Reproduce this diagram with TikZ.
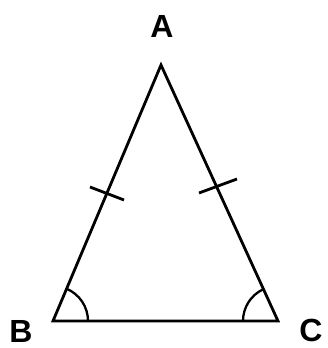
\documentclass[tikz,border=0pt]{standalone}
\usepackage{fontspec}
\setmainfont{Liberation Sans}
\usetikzlibrary{calc}
\tikzset{
  side/.style={line width=2.8pt, line join=miter, line cap=round},
  tickmark/.style={line width=2.8pt},
  anglearc/.style={line width=2.3pt},
  vlabel/.style={font=\bfseries\fontsize{32}{32}\selectfont, inner sep=0pt}
}
\begin{document}
\begin{tikzpicture}[x=1pt,y=-1pt]
\useasboundingbox (0,0) rectangle (328,348);
\coordinate (A) at (161,65);
\coordinate (B) at (53,321);
\coordinate (C) at (278,321);
\draw[side] (A) -- (B) -- (C) -- cycle;
% ticks
\coordinate (t1a) at (90,187);
\coordinate (t1b) at (124,200);
\coordinate (t2a) at (199,193);
\coordinate (t2b) at (237,179);
\draw[tickmark] (t1a) -- (t1b);
\draw[tickmark] (t2a) -- (t2b);
% angle arcs
\draw[anglearc] ($(B)+(35,0)$) arc[start angle=0, end angle=-67, radius=35];
\draw[anglearc] ($(C)+(-35,0)$) arc[start angle=180, end angle=245, radius=35];
\node[vlabel] (LA) at (162,26) {A};
\node[vlabel] (LB) at (21,331) {B};
\node[vlabel] (LC) at (311,330) {C};
\end{tikzpicture}
\end{document}
